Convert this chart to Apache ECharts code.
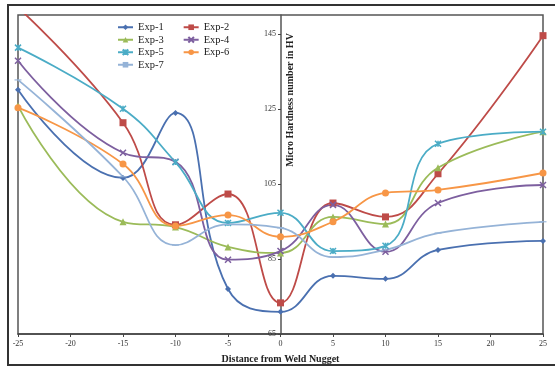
<!DOCTYPE html>
<html>
<head>
<meta charset="utf-8">
<script src="https://cdn.jsdelivr.net/npm/echarts@6/dist/echarts.min.js"></script>
<style>html,body{margin:0;padding:0;background:#fff;}#c{width:555px;height:370px;}</style>
</head>
<body>
<div id="c"></div>
<script>
const distances = [-25, -15, -10, -5, 0, 5, 10, 15, 25];
const exp1 = [130.1, 106.6, 123.9, 77.0, 70.9, 80.5, 79.7, 87.4, 89.8];
const exp2 = [152.0, 121.3, 94.1, 102.3, 73.3, 99.9, 96.2, 107.7, 144.5];
const exp3 = [125.8, 94.9, 93.5, 88.2, 86.6, 96.2, 94.3, 109.3, 118.9];
const exp4 = [137.8, 113.3, 110.9, 84.8, 87.1, 99.4, 86.9, 99.9, 104.7];
const exp5 = [141.3, 125.0, 110.8, 94.6, 97.3, 87.1, 88.5, 115.7, 118.9];
const exp6 = [125.3, 110.3, 93.8, 96.7, 90.9, 94.9, 102.6, 103.4, 107.9];
const exp7 = [132.7, 106.9, 88.7, 94.2, 93.3, 85.5, 87.4, 91.9, 94.9];
const yTicks = [65, 85, 105, 125, 145];
const seriesNames = ['Exp-1','Exp-2','Exp-3','Exp-4','Exp-5','Exp-6','Exp-7'];

const colors = ['#4a70b0','#be4b48','#9bbb59','#7d5f9f','#4bacc6','#f79646','#95b3d7'];
const symbols = ['diamond','rect','triangle',
  'path://M0,0L10,10M10,0L0,10',
  'path://M0,0L10,10M10,0L0,10M5,0L5,10',
  'circle',
  'path://M0,4.2L10,4.2L10,5.8L0,5.8Z'];
const sizes = [6,7,7,6,6,7,7];
const allData = [exp1,exp2,exp3,exp4,exp5,exp6,exp7];
const serif = '"Liberation Serif","DejaVu Serif",serif';

const series = seriesNames.map((n,i)=>({
  name:n, type:'line', smooth:0.45,
  data: distances.map((d,j)=>[d, allData[i][j]]),
  symbol: symbols[i], symbolSize: sizes[i], showSymbol:true,
  symbolKeepAspect: true,
  lineStyle:{color:colors[i], width:1.8},
  itemStyle:{color:colors[i], borderColor:colors[i], borderWidth:(i===3||i===4)?1.5:0},
  clip:true, z: 2
}));

const chart = echarts.init(document.getElementById('c'));
chart.setOption({
  animation:false,
  backgroundColor:'#fff',
  color: colors,
  grid:{left:18, top:15, right:12, bottom:36, show:true, borderColor:'#555', borderWidth:1.5, backgroundColor:'transparent'},
  legend:{data:seriesNames, orient:'horizontal', padding:0, left:117, top:21, width:140,
    itemWidth:15, itemHeight:7, itemGap:0,
    textStyle:{fontFamily:serif, fontSize:10.5, lineHeight:12.5, color:'#1a1a1a', padding:[0,19,0,0]}},
  xAxis:{type:'value', min:-25, max:25, interval:5,
    name:'Distance from Weld Nugget', nameLocation:'middle', nameGap:20,
    nameTextStyle:{fontFamily:serif, fontSize:10, fontWeight:'bold', color:'#222'},
    axisLine:{lineStyle:{color:'#444', width:1.5}},
    axisTick:{show:true, length:3, lineStyle:{color:'#444'}},
    axisLabel:{fontFamily:serif, fontSize:8, color:'#333', margin:6},
    splitLine:{show:false}},
  yAxis:{type:'value', min:65, max:150, position:'left', offset:-263,
    axisLine:{show:true, onZero:false, lineStyle:{color:'#555', width:1.5}},
    axisTick:{show:true, length:3, customValues:yTicks, lineStyle:{color:'#444'}},
    axisLabel:{fontFamily:serif, fontSize:8, color:'#333', margin:5, customValues:yTicks},
    splitLine:{show:false}},
  graphic:[
    {type:'rect', shape:{x:8, y:5, width:560, height:360}, style:{fill:'none', stroke:'#333', lineWidth:2}, z:10},
    {type:'text', x:290, y:100, rotation:Math.PI/2, style:{text:'Micro Hardness number in HV', font:'bold 10px "Liberation Serif", serif', fill:'#222', align:'center', verticalAlign:'middle'}, z:10}
  ],
  series: series
});
</script>
</body>
</html>
